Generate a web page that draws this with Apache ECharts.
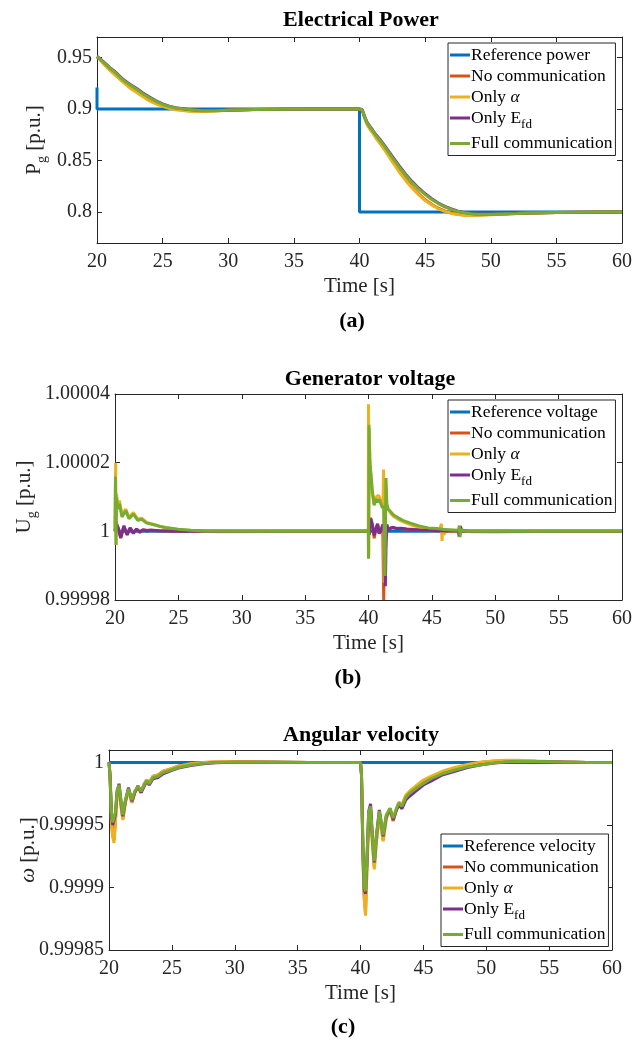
<!DOCTYPE html>
<html>
<head>
    <meta charset="utf-8">
    <title>Electrical Power / Generator voltage / Angular velocity</title>
    <script src="https://cdn.jsdelivr.net/npm/echarts@6/dist/echarts.min.js"></script>
    <style>
        body { margin: 0; background: #fff; }
        #chart { width: 635px; height: 1040px; }
    </style>
</head>
<body>
<div id="chart"></div>

<script type="text/javascript">
    // ---- (a) electrical power, shared time base ----
    var timeA = [20, 20.2, 20.5, 20.8, 21, 21.3, 21.6,
        22, 22.5, 23, 23.5, 24, 24.5, 25, 25.5, 26,
        27, 28, 29, 30, 32, 34, 36, 38, 40,
        40.2, 40.4, 40.6, 40.8, 41, 41.3, 41.6,
        42, 42.5, 43, 43.5, 44, 44.5, 45, 45.5, 46, 46.5, 47, 47.5,
        48, 48.5, 49, 50, 51, 52, 53, 55, 57, 60];
    var powerNoComm = [0.951, 0.9487, 0.9444, 0.9405, 0.938, 0.9347, 0.9313,
        0.9268, 0.9213, 0.9171, 0.9128, 0.9088, 0.9057, 0.9032, 0.9013, 0.8998,
        0.8983, 0.898, 0.8983, 0.8989, 0.8995, 0.8998, 0.9, 0.9, 0.9,
        0.8992, 0.8913, 0.8849, 0.8809, 0.8775, 0.8717, 0.8667,
        0.8596, 0.85, 0.8405, 0.832, 0.8244, 0.8179, 0.812, 0.8077, 0.8038, 0.8012, 0.7991, 0.7979,
        0.7972, 0.797, 0.7971, 0.7976, 0.7981, 0.7987, 0.7992, 0.7997, 0.7999, 0.8];
    var powerOnlyAlpha = [0.951, 0.9485, 0.944, 0.940, 0.9375, 0.934, 0.9305,
        0.926, 0.9205, 0.9163, 0.912, 0.908, 0.905, 0.9026, 0.9008, 0.8994,
        0.898, 0.8978, 0.8982, 0.8988, 0.8995, 0.8998, 0.9, 0.9, 0.9,
        0.899, 0.891, 0.8845, 0.8805, 0.877, 0.871, 0.866,
        0.8587, 0.849, 0.8394, 0.831, 0.8234, 0.817, 0.8112, 0.807, 0.8032, 0.8007, 0.7987, 0.7976,
        0.797, 0.7968, 0.797, 0.7975, 0.798, 0.7987, 0.7992, 0.7997, 0.7999, 0.8];
    var powerOnlyEfd = [0.951, 0.9492, 0.9458, 0.9424, 0.94, 0.937, 0.9336,
        0.9287, 0.9242, 0.9202, 0.9157, 0.9117, 0.9081, 0.905, 0.9029, 0.9013,
        0.8997, 0.8986, 0.8986, 0.899, 0.8996, 0.8999, 0.9, 0.9, 0.9,
        0.8996, 0.8925, 0.8866, 0.8831, 0.8797, 0.8743, 0.8699,
        0.863, 0.8541, 0.8453, 0.837, 0.8298, 0.8234, 0.8178, 0.8129, 0.8088, 0.8055, 0.803, 0.8008,
        0.7996, 0.7987, 0.7982, 0.7981, 0.7984, 0.7988, 0.7992, 0.7997, 0.7999, 0.8];
    var powerFull = [0.951, 0.949, 0.9455, 0.942, 0.9395, 0.9365, 0.933,
        0.928, 0.9235, 0.9195, 0.915, 0.911, 0.9075, 0.9045, 0.9025, 0.901,
        0.8995, 0.8985, 0.8985, 0.899, 0.8996, 0.8999, 0.9, 0.9, 0.9,
        0.8995, 0.892, 0.886, 0.8825, 0.879, 0.8735, 0.869,
        0.862, 0.853, 0.8442, 0.836, 0.8288, 0.8225, 0.817, 0.8122, 0.8083, 0.805, 0.8026, 0.8005,
        0.7994, 0.7985, 0.798, 0.798, 0.7983, 0.7987, 0.7992, 0.7997, 0.7999, 0.8];
    var powerRef = [[20, 0.921], [20, 0.9], [40, 0.9], [40, 0.8], [60, 0.8]];
    var powerTicks = [0.8, 0.85, 0.9, 0.95];

    // ---- (b) generator voltage, [time, value] ----
    var voltageRef = [[20, 1], [60, 1]];
    var voltageNoComm = [[20, 1], [20.1, 1.000002], [20.25, 1.000001], [20.45, 0.9999982], [20.7, 1.0000015],
        [20.95, 0.999999], [21.2, 1.000001], [21.45, 0.9999995], [21.7, 1.0000006], [22, 0.9999998],
        [22.3, 1.0000004], [23, 1.0000002], [25, 1], [39.98, 1], [40.05, 0.999999], [40.15, 1.000004],
        [40.3, 1.000002], [40.45, 0.999998], [40.6, 1.000001], [40.72, 1.000002], [40.85, 0.9999995],
        [41, 1.0000005], [41.12, 1.000002], [41.2, 0.99998], [41.26, 0.999996], [41.35, 1.000002],
        [41.5, 1.0000005], [41.7, 1.000001], [42, 1.000001], [43, 1.0000006], [44, 1.0000004],
        [45, 1.0000002], [46, 1.0000001], [48, 1], [60, 1]];
    var voltageOnlyAlpha = [[20, 1], [20.05, 1.00002], [20.08, 0.999996], [20.12, 1.000011], [20.2, 1.000007],
        [20.35, 1.000009], [20.55, 1.000005], [20.85, 1.0000065], [21.1, 1.000004], [21.45, 1.0000055],
        [21.8, 1.0000035], [22.1, 1.0000038], [22.5, 1.0000026], [23, 1.0000021], [23.5, 1.0000015],
        [24, 1.000001], [25, 1.0000005], [26, 1.0000002], [28, 0.9999999], [30, 0.9999999], [35, 1], [39.98, 1],
        [40, 1.000037], [40.03, 0.999993], [40.06, 1.00003], [40.12, 1.000021], [40.2, 1.0000145],
        [40.3, 1.000011], [40.44, 1.0000078], [40.6, 1.00001], [40.8, 1.0000105], [40.95, 1.000009],
        [41.05, 1.0000078], [41.15, 1.000009], [41.19, 1.000018], [41.23, 0.999985], [41.28, 1.000012],
        [41.35, 1.000006], [41.45, 1.000007], [41.6, 1.0000062], [41.8, 1.000005], [42, 1.0000043],
        [42.5, 1.0000032], [43, 1.0000024], [43.5, 1.0000017], [44, 1.0000012], [44.5, 1.0000008],
        [45, 1.0000005], [45.6, 1.0000003], [45.75, 1.0000022], [45.8, 0.9999972], [45.85, 1.000001],
        [45.95, 0.999999], [46.1, 1.0000002], [46.5, 0.9999999], [47, 0.9999999], [47.2, 0.9999995],
        [47.3, 1.0000005], [48, 0.9999999], [50, 0.9999998], [55, 1], [60, 1]];
    var voltageOnlyEfd = [[20, 1], [20.1, 1.0000025], [20.25, 1.000001], [20.45, 0.999998], [20.7, 1.0000016],
        [20.95, 0.999999], [21.2, 1.000001], [21.45, 0.9999994], [21.7, 1.0000007], [21.95, 0.9999997],
        [22.2, 1.0000005], [22.5, 1.0000001], [22.8, 1.0000004], [23.5, 1.0000002], [25, 1], [39.98, 1],
        [40.05, 0.999999], [40.18, 1.0000037], [40.3, 1.000002], [40.45, 0.9999988], [40.6, 1.000001],
        [40.72, 1.0000022], [40.85, 0.9999993], [41, 1.0000005], [41.15, 1.000002], [41.25, 0.9999995],
        [41.33, 0.999984], [41.38, 0.999995], [41.45, 1.000002], [41.55, 1.0000005], [41.7, 1.000001],
        [41.9, 1.0000012], [42.2, 1.0000008], [42.6, 1.0000009], [43, 1.0000007], [44, 1.0000004],
        [45, 1.0000003], [46, 1.0000001], [47.1, 1.0000001], [47.15, 0.9999985], [47.25, 1.0000015],
        [47.35, 1.0000002], [48, 1], [60, 1]];
    var voltageFull = [[20, 1], [20.04, 1.000016], [20.08, 0.999996], [20.12, 1.00001], [20.2, 1.0000065],
        [20.35, 1.000008], [20.55, 1.0000042], [20.85, 1.000006], [21.1, 1.0000037], [21.45, 1.000005],
        [21.8, 1.0000032], [22.1, 1.0000035], [22.5, 1.0000024], [23, 1.000002], [23.5, 1.0000015],
        [24, 1.0000011], [25, 1.0000006], [26, 1.0000003], [27, 1.0000001], [30, 1], [39.98, 1],
        [40, 0.999992], [40.04, 1.000031], [40.1, 1.00002], [40.2, 1.0000165], [40.3, 1.000012],
        [40.44, 1.0000076], [40.6, 1.0000095], [40.7, 1.0000085], [40.85, 1.0000093], [41, 1.0000078],
        [41.1, 1.0000068], [41.2, 1.0000075], [41.3, 0.999987], [41.38, 1.0000155], [41.45, 1.000008],
        [41.55, 1.0000065], [41.7, 1.0000061], [42, 1.0000047], [42.7, 1.0000032], [43.3, 1.0000024],
        [44, 1.0000016], [44.7, 1.000001], [45.4, 1.0000008], [46, 1.0000005], [46.7, 1.0000004],
        [47.1, 1.0000003], [47.17, 1.0000017], [47.22, 0.9999983], [47.3, 1.0000005], [47.5, 1.0000001],
        [48, 1], [50, 1], [60, 1]];
    var voltageTicks = [0.99998, 1, 1.00002, 1.00004];

    // ---- (c) angular velocity, [time, value] ----
    var velocityRef = [[20, 1], [60, 1]];
    var velocityNoComm = [[20, 1], [20.08, 0.99999], [20.2, 0.999952], [20.3, 0.999942], [20.4, 0.999938],
        [20.5, 0.999952], [20.65, 0.999976], [20.8, 0.99998], [20.95, 0.999966], [21.1, 0.999955],
        [21.3, 0.999968], [21.55, 0.999978], [21.82, 0.999968], [22.05, 0.999976], [22.3, 0.999981],
        [22.55, 0.999976], [22.8, 0.999983], [23, 0.999986], [23.2, 0.999984], [23.5, 0.999989],
        [23.9, 0.99999], [24.3, 0.999993], [24.8, 0.9999945], [25.5, 0.999997], [26.5, 0.999999],
        [27.5, 1], [28.5, 1.0000004], [30, 1.0000006], [33, 1.0000003], [36, 1], [40, 1],
        [40.08, 0.99999], [40.2, 0.999922], [40.3, 0.999892], [40.4, 0.99988], [40.5, 0.999912],
        [40.65, 0.999956], [40.8, 0.999963], [40.95, 0.999936], [41.1, 0.999916], [41.25, 0.999936],
        [41.5, 0.999959], [41.65, 0.999949], [41.8, 0.999938], [42.05, 0.999956], [42.35, 0.999962],
        [42.6, 0.999954], [42.85, 0.999962], [43.05, 0.999968], [43.3, 0.999966], [43.6, 0.999973],
        [43.9, 0.999976], [44.5, 0.999981], [45, 0.999985], [45.6, 0.999988], [46.5, 0.999992],
        [47.5, 0.999995], [48.5, 0.999998], [49.5, 1.0000001], [50.5, 1.000001], [51.5, 1.0000015],
        [52.5, 1.0000015], [54, 1.000001], [56, 1.0000004], [58, 1.0000001], [60, 1]];
    var velocityOnlyAlpha = [[20, 1], [20.08, 0.99999], [20.2, 0.99995], [20.3, 0.99994], [20.4, 0.9999357],
        [20.5, 0.99995], [20.65, 0.999975], [20.8, 0.99998], [20.95, 0.999965], [21.1, 0.999954],
        [21.3, 0.999968], [21.55, 0.999978], [21.82, 0.9999677], [22.05, 0.999976], [22.3, 0.999981],
        [22.55, 0.999976], [22.8, 0.999983], [23, 0.999986], [23.2, 0.999984], [23.5, 0.999989],
        [23.9, 0.99999], [24.3, 0.999993], [24.8, 0.9999945], [25.5, 0.999997], [26.5, 0.999999],
        [27.5, 1], [28.5, 1.0000005], [30, 1.0000008], [33, 1.0000004], [36, 1], [40, 1],
        [40.08, 0.99999], [40.2, 0.99992], [40.3, 0.99989], [40.4, 0.9998775], [40.5, 0.99991],
        [40.65, 0.999955], [40.8, 0.999962], [40.95, 0.999935], [41.1, 0.9999145], [41.25, 0.999935],
        [41.5, 0.999958], [41.65, 0.999948], [41.8, 0.999937], [42.05, 0.999955], [42.35, 0.999962],
        [42.6, 0.999953], [42.85, 0.999962], [43.05, 0.999968], [43.3, 0.999966], [43.6, 0.999974],
        [43.9, 0.999977], [44.5, 0.999982], [45, 0.999986], [45.6, 0.999989], [46.5, 0.999993],
        [47.5, 0.999996], [48.5, 0.9999985], [49.5, 1.0000003], [50.5, 1.0000013], [51.5, 1.0000018],
        [52.5, 1.0000018], [54, 1.0000012], [56, 1.0000005], [58, 1.0000001], [60, 1]];
    var velocityOnlyEfd = [[20, 1], [20.08, 0.99999], [20.2, 0.999958], [20.3, 0.99995], [20.4, 0.99995],
        [20.5, 0.999958], [20.65, 0.999977], [20.8, 0.999983], [20.95, 0.999969], [21.1, 0.999957],
        [21.3, 0.999969], [21.55, 0.99998], [21.82, 0.999969], [22.05, 0.999976], [22.3, 0.999981],
        [22.55, 0.999976], [22.8, 0.999981], [23, 0.999985], [23.2, 0.999982], [23.5, 0.999987],
        [23.9, 0.999988], [24.3, 0.999991], [24.8, 0.999993], [25.5, 0.9999955], [26.5, 0.9999975],
        [27.5, 0.999999], [28.5, 0.9999998], [30, 1.0000002], [33, 1.0000002], [36, 1], [40, 1],
        [40.08, 0.99999], [40.2, 0.999928], [40.3, 0.999898], [40.4, 0.999895], [40.5, 0.999918],
        [40.65, 0.999961], [40.8, 0.999967], [40.95, 0.99994], [41.1, 0.99992], [41.25, 0.99994],
        [41.5, 0.999962], [41.65, 0.999952], [41.8, 0.999941], [42.05, 0.999957], [42.35, 0.999963],
        [42.6, 0.999954], [42.85, 0.999962], [43.05, 0.999966], [43.3, 0.999963], [43.6, 0.99997],
        [43.9, 0.999973], [44.5, 0.999978], [45, 0.999982], [45.6, 0.999985], [46.5, 0.99999],
        [47.5, 0.999993], [48.5, 0.999996], [49.5, 0.999998], [50.5, 0.9999993], [51.5, 1.0000003],
        [52.5, 1.0000007], [54, 1.0000007], [56, 1.0000004], [58, 1.0000001], [60, 1]];
    var velocityFull = [[20, 1], [20.08, 0.99999], [20.2, 0.99996], [20.3, 0.999952], [20.4, 0.9999515],
        [20.5, 0.99996], [20.65, 0.999978], [20.8, 0.999982], [20.95, 0.99997], [21.1, 0.999958],
        [21.3, 0.99997], [21.55, 0.999979], [21.82, 0.99997], [22.05, 0.999977], [22.3, 0.999981],
        [22.55, 0.999977], [22.8, 0.999982], [23, 0.9999855], [23.2, 0.999983], [23.5, 0.999988],
        [23.9, 0.999989], [24.3, 0.999992], [24.8, 0.9999935], [25.5, 0.999996], [26.5, 0.999998],
        [27.5, 0.9999993], [28.5, 1], [30, 1.0000003], [33, 1.0000002], [36, 1], [40, 1],
        [40.08, 0.99999], [40.2, 0.99993], [40.3, 0.9999], [40.4, 0.999897], [40.5, 0.99992],
        [40.65, 0.99996], [40.8, 0.999965], [40.95, 0.99994], [41.1, 0.999921], [41.25, 0.99994],
        [41.5, 0.999961], [41.65, 0.999952], [41.8, 0.999942], [42.05, 0.999958], [42.35, 0.9999635],
        [42.6, 0.9999556], [42.85, 0.999963], [43.05, 0.9999675], [43.3, 0.999965], [43.6, 0.999972],
        [43.9, 0.9999754], [44.5, 0.99998], [45, 0.9999833], [45.6, 0.999987], [46.5, 0.999991],
        [47.5, 0.999994], [48.5, 0.9999965], [49.5, 0.999998], [50.5, 0.9999995], [51.5, 1.0000005],
        [52.5, 1.0000009], [54, 1.0000008], [56, 1.0000004], [58, 1.0000001], [60, 1]];
    var velocityTicks = [0.99985, 0.9999, 0.99995, 1];

    var seriesNames = ['No communication', 'Only α', 'Only Efd', 'Full communication'];
    var colors = ['#0072BD', '#D95319', '#EDB120', '#7E2F8E', '#77AC30'];

    var SERIF = "'Liberation Serif', 'DejaVu Serif', serif";
    var INK = '#262626';

    // grids in pixels: [left, top, width, height]
    var grids = [
        [97, 37, 528, 206],
        [115, 394, 510, 206],
        [109, 750, 503, 200]
    ];

    function zip(t, v) {
        return t.map(function (x, i) { return [x, v[i]]; });
    }

    function fmt(v) {
        return String(+(+v).toFixed(6));
    }

    var richText = {
        t: { fontFamily: SERIF, fontSize: 21, color: INK, lineHeight: 24 },
        i: { fontFamily: SERIF, fontSize: 21, color: INK, lineHeight: 24, fontStyle: 'italic' },
        s: { fontFamily: SERIF, fontSize: 14, color: INK, lineHeight: 24, padding: [16, 0, 0, 0] }
    };

    var xAxes = [], yAxes = [];
    grids.forEach(function (g, k) {
        var ticks = [powerTicks, voltageTicks, velocityTicks][k];
        var yRange = [[0.77, 0.97], [0.99998, 1.00004], [0.99985, 1.00001]][k];
        var yName = ['{t|P}{s|g}{t| [p.u.]}', '{t|U}{s|g}{t| [p.u.]}', '{i|ω}{t| [p.u.]}'][k];
        var yGap = [51, 79, 69][k];
        ['bottom', 'top'].forEach(function (pos) {
            xAxes.push({
                type: 'value', gridIndex: k, position: pos, min: 20, max: 60, interval: 5,
                name: pos === 'bottom' ? 'Time [s]' : '',
                nameLocation: 'middle', nameGap: 33, nameMoveOverlap: false,
                nameTextStyle: { fontFamily: SERIF, fontSize: 21, color: INK },
                axisLine: { show: true, onZero: false, lineStyle: { color: INK, width: 1 } },
                axisTick: { show: true, inside: true, length: 5, lineStyle: { color: INK } },
                axisLabel: { show: pos === 'bottom', margin: 9, fontFamily: SERIF, fontSize: 20, color: INK },
                splitLine: { show: false }
            });
        });
        ['left', 'right'].forEach(function (pos) {
            yAxes.push({
                type: 'value', gridIndex: k, position: pos, min: yRange[0], max: yRange[1],
                name: pos === 'left' ? yName : '',
                nameLocation: 'middle', nameGap: yGap, nameMoveOverlap: false,
                nameTextStyle: { rich: richText },
                axisLine: { show: true, onZero: false, lineStyle: { color: INK, width: 1 } },
                axisTick: { show: true, inside: true, length: 5, customValues: ticks, lineStyle: { color: INK } },
                axisLabel: {
                    show: pos === 'left', margin: 5, customValues: ticks, formatter: fmt,
                    fontFamily: SERIF, fontSize: 20, color: INK
                },
                splitLine: { show: false }
            });
        });
    });

    function lineSeries(name, k, color, data) {
        return {
            name: name, type: 'line', xAxisIndex: 2 * k, yAxisIndex: 2 * k,
            data: data, symbol: 'none', color: color,
            lineStyle: { width: 3, color: color }, animation: false
        };
    }

    var series = [
        lineSeries('Reference power', 0, colors[0], powerRef),
        lineSeries(seriesNames[0], 0, colors[1], zip(timeA, powerNoComm)),
        lineSeries(seriesNames[1], 0, colors[2], zip(timeA, powerOnlyAlpha)),
        lineSeries(seriesNames[2], 0, colors[3], zip(timeA, powerOnlyEfd)),
        lineSeries(seriesNames[3], 0, colors[4], zip(timeA, powerFull)),
        lineSeries('Reference voltage', 1, colors[0], voltageRef),
        lineSeries(seriesNames[0], 1, colors[1], voltageNoComm),
        lineSeries(seriesNames[1], 1, colors[2], voltageOnlyAlpha),
        lineSeries(seriesNames[2], 1, colors[3], voltageOnlyEfd),
        lineSeries(seriesNames[3], 1, colors[4], voltageFull),
        lineSeries('Reference velocity', 2, colors[0], velocityRef),
        lineSeries(seriesNames[0], 2, colors[1], velocityNoComm),
        lineSeries(seriesNames[1], 2, colors[2], velocityOnlyAlpha),
        lineSeries(seriesNames[2], 2, colors[3], velocityOnlyEfd),
        lineSeries(seriesNames[3], 2, colors[4], velocityFull)
    ];

    function legendLabel(name) {
        if (name === 'Only α') return '{t|Only }{i|α}';
        if (name === 'Only Efd') return '{t|Only E}{s|fd}';
        return '{t|' + name + '}';
    }

    var legendRich = {
        t: { fontFamily: SERIF, fontSize: 17.5, color: '#000', lineHeight: 20 },
        i: { fontFamily: SERIF, fontSize: 17.5, color: '#000', lineHeight: 20, fontStyle: 'italic' },
        s: { fontFamily: SERIF, fontSize: 13, color: '#000', padding: [14, 0, 0, 0] }
    };

    function legend(refName, left, top) {
        return {
            data: [refName].concat(seriesNames),
            orient: 'vertical', left: left, top: top,
            icon: 'rect', itemWidth: 20, itemHeight: 3, itemGap: 3,
            padding: [3, 3, 3, 2],
            borderColor: INK, borderWidth: 1, backgroundColor: '#fff',
            selectedMode: false,
            formatter: legendLabel,
            textStyle: { rich: legendRich, padding: [0, 0, 0, -4] }
        };
    }

    function titleText(text, left, top, size) {
        return {
            text: text, left: left, top: top, padding: 0, textAlign: 'center',
            textStyle: { fontFamily: SERIF, fontWeight: 'bold', fontSize: size, color: '#000' }
        };
    }

    var chart = echarts.init(document.getElementById('chart'));
    chart.setOption({
        backgroundColor: '#fff',
        animation: false,
        title: [
            titleText('Electrical Power', 361, 9, 22),
            titleText('Generator voltage', 370, 368, 22),
            titleText('Angular velocity', 361, 724, 22),
            titleText('(a)', 352, 310, 22),
            titleText('(b)', 348, 667, 22),
            titleText('(c)', 343, 1016, 22)
        ],
        legend: [
            legend('Reference power', 448, 43),
            legend('Reference voltage', 448, 400),
            legend('Reference velocity', 441, 834)
        ],
        grid: grids.map(function (g) {
            return { left: g[0], top: g[1], width: g[2], height: g[3], show: false };
        }),
        xAxis: xAxes,
        yAxis: yAxes,
        series: series
    });
</script>
</body>
</html>
